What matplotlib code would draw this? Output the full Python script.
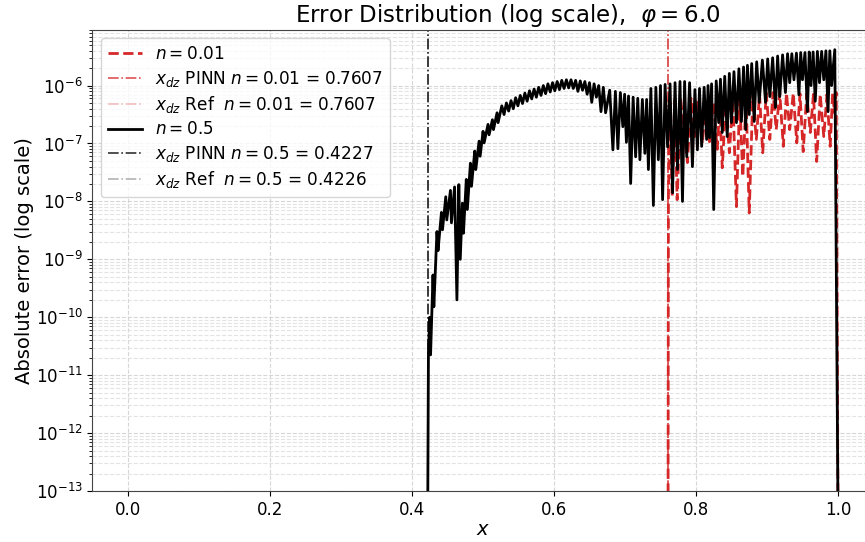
import numpy as np
import matplotlib
matplotlib.use("Agg")
import matplotlib.pyplot as plt
from matplotlib.ticker import LogLocator, NullFormatter

# ---------------- data ----------------
phi = 6.0
n_values = [0.01, 0.5]
xdz_pinn = [0.7607, 0.4227]
xdz_ref = [0.7607, 0.4226]

# n = 0.5 : x positions and log10(absolute error)
x_n05 = [
    0.4222, 0.4232, 0.4250, 0.4262, 0.4296, 0.4308, 0.4352, 0.4367, 0.4415, 0.4430,
    0.4476, 0.4490, 0.4542, 0.4556, 0.4600, 0.4633, 0.4660, 0.4680, 0.4710, 0.4725,
    0.4765, 0.4780, 0.4823, 0.4838, 0.4884, 0.4899, 0.4945, 0.4960, 0.5001, 0.5016,
    0.5071, 0.5086, 0.5133, 0.5148, 0.5198, 0.5213,
    0.5265, 0.5297, 0.5330, 0.5362, 0.5395, 0.5427, 0.5460, 0.5492, 0.5525, 0.5557,
    0.5590, 0.5622, 0.5655, 0.5687, 0.5720, 0.5752, 0.5785, 0.5817, 0.5850, 0.5882,
    0.5915, 0.5947, 0.5980, 0.6012, 0.6045, 0.6077, 0.6110, 0.6142, 0.6175, 0.6207,
    0.6240, 0.6272, 0.6305, 0.6337, 0.6370, 0.6402, 0.6435, 0.6467, 0.6500, 0.6532,
    0.6565, 0.6597, 0.6630, 0.6662, 0.6695, 0.6727,
    0.6785, 0.6830, 0.6865, 0.6900, 0.6935, 0.6970, 0.6995, 0.7020, 0.7050, 0.7080,
    0.7115, 0.7150, 0.7180, 0.7210, 0.7245, 0.7280, 0.7305, 0.7330, 0.7365, 0.7400,
    0.7435, 0.7470, 0.7500, 0.7530, 0.7565, 0.7600, 0.7635, 0.7670, 0.7705, 0.7740,
    0.7775, 0.7810, 0.7840, 0.7870, 0.7910, 0.7950, 0.7985, 0.8020, 0.8050, 0.8080,
    0.8115, 0.8150, 0.8170, 0.8190, 0.8220, 0.8250, 0.8285, 0.8320, 0.8345, 0.8370,
    0.8405, 0.8440, 0.8470, 0.8500, 0.8535, 0.8570, 0.8605, 0.8640, 0.8670, 0.8700,
    0.8725, 0.8750, 0.8785, 0.8820, 0.8855, 0.8890, 0.8935, 0.8980, 0.9010, 0.9040,
    0.9080, 0.9120, 0.9150, 0.9180, 0.9220, 0.9260, 0.9290, 0.9320, 0.9350, 0.9380,
    0.9415, 0.9450, 0.9475, 0.9500, 0.9535, 0.9570, 0.9595, 0.9620, 0.9650, 0.9680,
    0.9710, 0.9740, 0.9770, 0.9800, 0.9830, 0.9860, 0.9885, 0.9910, 0.9955, 1.0000,
]
logerr_n05 = [
    -13.3, -10.60, -10.00, -10.65, -9.27, -9.82, -8.52, -8.85, -8.19, -8.49,
    -7.92, -8.32, -7.81, -8.37, -7.75, -9.70, -7.71, -9.00, -8.03, -8.55,
    -7.62, -8.14, -7.34, -7.74, -7.13, -7.45, -6.96, -7.22, -6.79, -6.99,
    -6.67, -6.85, -6.59, -6.76, -6.47, -6.64,
    -6.35, -6.50, -6.30, -6.44, -6.26, -6.40, -6.21, -6.35, -6.17, -6.31,
    -6.13, -6.27, -6.09, -6.23, -6.06, -6.20, -6.03, -6.17, -6.00, -6.14,
    -5.97, -6.11, -5.95, -6.09, -5.93, -6.07, -5.91, -6.05, -5.90, -6.04,
    -5.90, -6.05, -5.91, -6.10, -5.92, -6.08, -5.93, -6.15, -5.95, -6.29,
    -5.97, -6.20, -6.00, -6.45, -6.03, -6.47,
    -6.08, -7.11, -6.10, -7.09, -6.12, -6.71, -6.15, -6.98, -6.18, -7.69,
    -6.20, -7.23, -6.22, -7.28, -6.24, -7.17, -6.24, -7.45, -6.05, -8.07,
    -6.03, -7.28, -6.00, -7.97, -5.98, -7.06, -5.97, -7.85, -5.95, -7.45,
    -5.93, -8.00, -5.93, -7.23, -5.95, -7.40, -6.07, -7.11, -6.05, -7.05,
    -6.03, -6.93, -6.00, -6.90, -5.97, -8.14, -5.92, -6.64, -5.89, -6.81,
    -5.84, -6.88, -5.79, -6.64, -5.76, -6.64, -5.71, -6.62, -5.68, -6.76,
    -5.65, -6.50, -5.62, -6.62, -5.59, -6.29, -5.56, -6.29, -5.54, -6.19,
    -5.52, -6.38, -5.49, -6.19, -5.47, -6.12, -5.45, -5.95, -5.45, -5.90,
    -5.44, -6.16, -5.43, -5.90, -5.43, -6.45, -5.42, -6.00, -5.42, -6.27,
    -5.41, -5.95, -5.41, -5.90, -5.40, -6.45, -5.40, -6.00, -5.38, -13.3,
]

# n = 0.01 : x positions and log10(absolute error)
x_n001 = [
    0.7607, 0.7612, 0.7635, 0.7665, 0.7700, 0.7735, 0.7785, 0.7880, 0.7930, 0.7980,
    0.8030, 0.8090, 0.8140, 0.8190, 0.8245, 0.8300, 0.8335, 0.8370, 0.8420, 0.8470,
    0.8520, 0.8570, 0.8615, 0.8660, 0.8705, 0.8750, 0.8800, 0.8850, 0.8895, 0.8940,
    0.8990, 0.9040, 0.9085, 0.9130, 0.9180, 0.9230, 0.9275, 0.9320, 0.9370, 0.9420,
    0.9465, 0.9510, 0.9560, 0.9610, 0.9655, 0.9700, 0.9750, 0.9800, 0.9845, 0.9890,
    0.9925, 0.9950, 0.9975, 1.0000,
]
logerr_n001 = [
    -13.3, -7.90, -6.30, -7.92, -6.25, -7.97, -6.25, -7.33, -6.22, -6.88,
    -6.25, -7.00, -6.28, -6.97, -6.30, -7.10, -6.32, -7.42, -6.30, -7.16,
    -6.25, -8.09, -6.22, -7.57, -6.20, -8.20, -6.18, -6.93, -6.15, -7.16,
    -6.13, -6.93, -6.12, -6.76, -6.12, -7.05, -6.13, -6.76, -6.13, -6.99,
    -6.14, -7.14, -6.14, -6.81, -6.15, -7.31, -6.15, -6.88, -6.15, -7.05,
    -6.13, -6.47, -6.12, -13.3,
]

# ---------------- figure ----------------
fig = plt.figure(figsize=(8.65, 5.42), dpi=100)
ax = fig.add_axes([0.1069, 0.0941, 0.9029, 0.8506])

red = "#d62728"
ax.plot(x_n001, 10.0 ** np.array(logerr_n001), color=red, ls="--", lw=2.0,
        label=r"$n = 0.01$")
ax.axvline(xdz_pinn[0], color=red, ls="-.", lw=1.2, alpha=0.8,
           label=r"$x_{dz}$ PINN $n = 0.01$ = %.4f" % xdz_pinn[0])
ax.axvline(xdz_ref[0], color=red, ls="-.", lw=1.2, alpha=0.3,
           label=r"$x_{dz}$ Ref  $n = 0.01$ = %.4f" % xdz_ref[0])
ax.plot(x_n05, 10.0 ** np.array(logerr_n05), color="black", ls="-", lw=2.0,
        label=r"$n = 0.5$")
ax.axvline(xdz_pinn[1], color="black", ls="-.", lw=1.2, alpha=0.8,
           label=r"$x_{dz}$ PINN $n = 0.5$ = %.4f" % xdz_pinn[1])
ax.axvline(xdz_ref[1], color="black", ls="-.", lw=1.2, alpha=0.3,
           label=r"$x_{dz}$ Ref  $n = 0.5$ = %.4f" % xdz_ref[1])

ax.set_yscale("log")
ax.set_xlim(-0.05, 1.05)
ax.set_ylim(1e-13, 10 ** -5.04)
ax.yaxis.set_major_locator(LogLocator(base=10, numticks=20))
ax.yaxis.set_minor_locator(LogLocator(base=10, subs=np.arange(2, 10), numticks=20))
ax.yaxis.set_minor_formatter(NullFormatter())
ax.set_xticks([0.0, 0.2, 0.4, 0.6, 0.8, 1.0])
ax.tick_params(axis="both", which="major", labelsize=12)

ax.grid(True, which="major", ls="--", lw=0.8, color="#cccccc", alpha=0.8)
ax.grid(True, which="minor", axis="y", ls="--", lw=0.8, color="#dddddd", alpha=0.8)
ax.set_axisbelow(True)

for s in ax.spines.values():
    s.set_color("#444444")

ax.set_xlabel(r"$x$", fontsize=14, labelpad=1)
ax.set_ylabel("Absolute error (log scale)", fontsize=14, labelpad=1)
title = ax.set_title(r"Error Distribution (log scale),  $\varphi = %.1f$" % phi,
                     fontsize=16.5)
title.set_x(0.532)
ax.legend(loc="upper left", fontsize=12.2, labelspacing=0.32,
          bbox_to_anchor=(0.0, 1.0), borderaxespad=0.5)

fig.savefig("out.png", dpi=100)
